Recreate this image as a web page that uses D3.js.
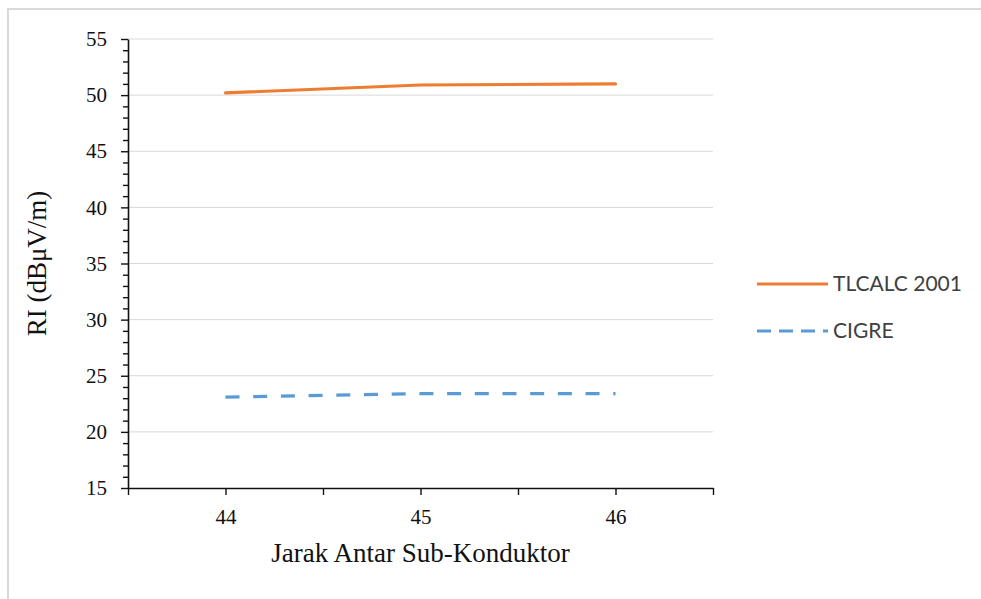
<!DOCTYPE html>
<html>
<head>
<meta charset="utf-8">
<script src="https://cdn.jsdelivr.net/npm/d3@7"></script>
<style>
  html, body { margin: 0; padding: 0; background: #fff; }
  svg { display: block; }
</style>
</head>
<body>
<script>
// ---- Data ----
const categories = [44, 45, 46];
const seriesNames = ["TLCALC 2001", "CIGRE"];
const tlcalc = [50.2, 50.9, 51.0];
const cigre = [23.1, 23.4, 23.4];
const yTicks = [15, 20, 25, 30, 35, 40, 45, 50, 55];
const xTickValues = [43.5, 44, 44.5, 45, 45.5, 46, 46.5];
const xLabelValues = [44, 45, 46];
const xTitle = "Jarak Antar Sub-Konduktor";
const yTitle = "RI (dBμV/m)";

const W = 981, H = 599;
const svg = d3.select("body").append("svg").attr("width", W).attr("height", H);

// outer frame
svg.append("rect").attr("x", 8).attr("y", 9).attr("width", W + 20).attr("height", H + 20)
  .attr("fill", "#fff").attr("stroke", "#d9d9d9").attr("stroke-width", 2);

const plot = { left: 128, right: 713, top: 39, bottom: 488 };
const x = d3.scaleLinear().domain([43.5, 46.5]).range([plot.left, plot.right]);
const y = d3.scaleLinear().domain([15, 55]).range([plot.bottom, plot.top]);

// gridlines
svg.append("g").selectAll("line").data(yTicks.filter(d => d > 15)).join("line")
  .attr("x1", plot.left).attr("x2", plot.right)
  .attr("y1", d => y(d)).attr("y2", d => y(d))
  .attr("stroke", "#d9d9d9").attr("stroke-width", 1);

const serif = "'Liberation Serif', 'Times New Roman', serif";

// minor y ticks
const minor = d3.range(15, 55.01, 1).filter(d => d % 5 !== 0);
svg.append("g").attr("transform", `translate(${plot.left},0)`)
  .call(d3.axisLeft(y).tickValues(minor).tickSize(5).tickFormat(""))
  .call(g => g.select(".domain").remove())
  .call(g => g.selectAll("line").attr("stroke", "#111").attr("stroke-width", 1.4));

// major y axis
svg.append("g").attr("transform", `translate(${plot.left},0)`)
  .call(d3.axisLeft(y).tickValues(yTicks).tickSize(7).tickPadding(14).tickSizeOuter(0))
  .call(g => g.select(".domain").attr("stroke", "#111").attr("stroke-width", 1.6))
  .call(g => g.selectAll(".tick line").attr("stroke", "#111").attr("stroke-width", 1.4))
  .call(g => g.selectAll("text").attr("font-family", serif).attr("font-size", 21).attr("fill", "#111"));

// x axis
svg.append("g").attr("transform", `translate(0,${plot.bottom})`)
  .call(d3.axisBottom(x).tickValues(xTickValues).tickSize(7).tickPadding(14).tickSizeOuter(0)
    .tickFormat(d => xLabelValues.includes(d) ? d3.format("d")(d) : ""))
  .call(g => g.select(".domain").attr("stroke", "#111").attr("stroke-width", 1.6))
  .call(g => g.selectAll(".tick line").attr("stroke", "#111").attr("stroke-width", 1.4))
  .call(g => g.selectAll("text").attr("font-family", serif).attr("font-size", 21).attr("fill", "#111"));

// axis titles
svg.append("text").attr("x", (plot.left + plot.right) / 2).attr("y", 562)
  .attr("text-anchor", "middle").attr("font-family", serif).attr("font-size", 27).attr("fill", "#111")
  .text(xTitle);
svg.append("text").attr("transform", `translate(46,${(plot.top + plot.bottom) / 2}) rotate(-90)`)
  .attr("text-anchor", "middle").attr("font-family", serif).attr("font-size", 27).attr("fill", "#111")
  .text(yTitle);

// lines
const line = d3.line().x((d, i) => x(categories[i])).y(d => y(d));
const colors = ["#ED7D31", "#5B9BD5"];
const dashes = [null, "14,13.7"];
[tlcalc, cigre].forEach((s, k) => {
  svg.append("path").datum(s).attr("d", line)
    .attr("fill", "none").attr("stroke", colors[k]).attr("stroke-width", 3.2)
    .attr("stroke-dasharray", dashes[k]).attr("stroke-linecap", k === 0 ? "round" : "butt");
});

// legend
const legY = [284, 331];
const leg = svg.append("g");
seriesNames.forEach((n, k) => {
  leg.append("line").attr("x1", 757).attr("x2", 828).attr("y1", legY[k]).attr("y2", legY[k])
    .attr("stroke", colors[k]).attr("stroke-width", 3.2).attr("stroke-dasharray", k === 1 ? "14,8" : null);
  leg.append("text").attr("x", 833).attr("y", legY[k] + 7).attr("font-family", "Lato, 'Open Sans', sans-serif")
    .attr("font-size", 21).attr("fill", "#404040").text(n);
});
</script>
</body>
</html>
